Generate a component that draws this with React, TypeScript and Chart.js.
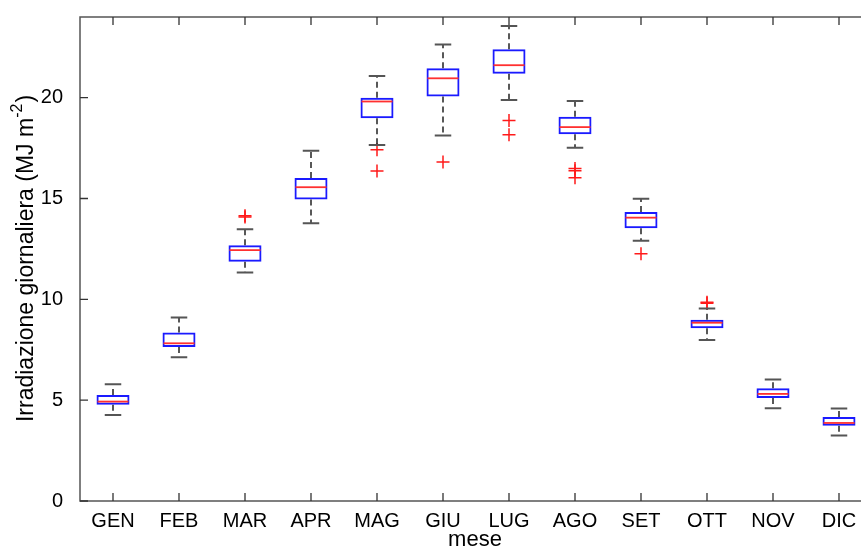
import React, { useEffect, useRef } from "react";
import { Chart, registerables } from "chart.js";

Chart.register(...registerables);

const MONTHS = ["GEN", "FEB", "MAR", "APR", "MAG", "GIU", "LUG", "AGO", "SET", "OTT", "NOV", "DIC"];
const LOWER_WHISKER = [4.27, 7.13, 11.33, 13.77, 17.65, 18.13, 19.89, 17.52, 12.9, 7.98, 4.6, 3.25];
const Q1 = [4.77, 7.64, 11.86, 14.95, 18.98, 20.06, 21.19, 18.19, 13.52, 8.56, 5.11, 3.73];
const MEDIAN = [4.93, 7.82, 12.44, 15.56, 19.81, 20.96, 21.61, 18.54, 14.05, 8.84, 5.31, 3.87];
const Q3 = [5.26, 8.36, 12.68, 16.02, 19.99, 21.46, 22.4, 19.05, 14.33, 8.99, 5.59, 4.16];
const UPPER_WHISKER = [5.79, 9.1, 13.47, 17.37, 21.08, 22.64, 23.55, 19.83, 14.99, 9.54, 6.02, 4.59];
const OUTLIER_MONTHS = ["MAR", "MAR", "MAG", "MAG", "GIU", "LUG", "LUG", "AGO", "AGO", "AGO", "SET", "OTT", "OTT"];
const OUTLIER_VALUES = [14.08, 14.14, 17.42, 16.36, 16.81, 18.87, 18.16, 16.49, 16.38, 16.03, 12.26, 9.86, 9.8];
const Y_TICKS = [0, 5, 10, 15, 20];
const Y_MIN = 0;
const Y_MAX = 24;
const Y_TITLE = "Irradiazione giornaliera (MJ m";
const Y_TITLE_SUP = "-2";
const Y_TITLE_END = ")";
const X_TITLE = "mese";

const FONT = "'Liberation Sans', Arial, Helvetica, sans-serif";

const boxPlugin = {
  id: "boxDecor",
  afterDatasetsDraw(chart: any) {
    const { ctx, chartArea, scales } = chart;
    const x = scales.x;
    const y = scales.y;
    const step = (chartArea.right - chartArea.left) / MONTHS.length;
    const capHalf = step * 0.125;
    const boxHalf = step * 0.25;
    ctx.save();
    MONTHS.forEach((_, i) => {
      const cx = x.getPixelForValue(i);
      const yLw = y.getPixelForValue(LOWER_WHISKER[i]);
      const yQ1 = y.getPixelForValue(Q1[i]);
      const yMed = y.getPixelForValue(MEDIAN[i]);
      const yQ3 = y.getPixelForValue(Q3[i]);
      const yUw = y.getPixelForValue(UPPER_WHISKER[i]);
      ctx.strokeStyle = "#222";
      ctx.lineWidth = 1.5;
      ctx.setLineDash([6, 4]);
      ctx.beginPath();
      ctx.moveTo(cx, yQ3);
      ctx.lineTo(cx, yUw);
      ctx.moveTo(cx, yQ1);
      ctx.lineTo(cx, yLw);
      ctx.stroke();
      ctx.setLineDash([]);
      ctx.strokeStyle = "#555";
      ctx.lineWidth = 2;
      ctx.beginPath();
      ctx.moveTo(cx - capHalf, yUw);
      ctx.lineTo(cx + capHalf, yUw);
      ctx.moveTo(cx - capHalf, yLw);
      ctx.lineTo(cx + capHalf, yLw);
      ctx.stroke();
      ctx.strokeStyle = "#ff3030";
      ctx.lineWidth = 1.8;
      ctx.beginPath();
      ctx.moveTo(cx - boxHalf + 1, yMed);
      ctx.lineTo(cx + boxHalf - 1, yMed);
      ctx.stroke();
    });
    ctx.restore();
  },
  afterDraw(chart: any) {
    const { ctx, chartArea, scales } = chart;
    const x = scales.x;
    const y = scales.y;
    const { left, right, top, bottom } = chartArea;
    const tickLen = 8;
    ctx.save();
    ctx.strokeStyle = "#555";
    ctx.lineWidth = 1.5;
    ctx.beginPath();
    ctx.rect(left, top, right - left, bottom - top);
    ctx.stroke();
    ctx.lineWidth = 1.3;
    ctx.strokeStyle = "#333";
    ctx.beginPath();
    MONTHS.forEach((_, i) => {
      const px = x.getPixelForValue(i);
      ctx.moveTo(px, bottom);
      ctx.lineTo(px, bottom - tickLen);
      ctx.moveTo(px, top);
      ctx.lineTo(px, top + tickLen);
    });
    Y_TICKS.forEach((v) => {
      const py = y.getPixelForValue(v);
      ctx.moveTo(left, py);
      ctx.lineTo(left + tickLen, py);
      ctx.moveTo(right, py);
      ctx.lineTo(right - tickLen, py);
    });
    ctx.stroke();

    ctx.fillStyle = "#000";
    ctx.font = `22px ${FONT}`;
    ctx.textAlign = "center";
    ctx.textBaseline = "middle";
    ctx.fillText(X_TITLE, (left + right) / 2 - 1, 540);

    ctx.translate(27, (top + bottom) / 2);
    ctx.rotate(-Math.PI / 2);
    ctx.textAlign = "left";
    ctx.textBaseline = "middle";
    const mainFont = `23px ${FONT}`;
    const supFont = `16px ${FONT}`;
    ctx.font = mainFont;
    const w1 = ctx.measureText(Y_TITLE).width;
    const w3 = ctx.measureText(Y_TITLE_END).width;
    ctx.font = supFont;
    const w2 = ctx.measureText(Y_TITLE_SUP).width;
    const x0 = -(w1 + w2 + w3) / 2;
    ctx.font = mainFont;
    ctx.fillText(Y_TITLE, x0, 0);
    ctx.font = supFont;
    ctx.fillText(Y_TITLE_SUP, x0 + w1, -9);
    ctx.font = mainFont;
    ctx.fillText(Y_TITLE_END, x0 + w1 + w2 + 1, 0);
    ctx.restore();
  },
};

export default function App() {
  const canvasRef = useRef<HTMLCanvasElement | null>(null);

  useEffect(() => {
    if (!canvasRef.current) return;
    const chart = new Chart(canvasRef.current, {
      type: "bar",
      data: {
        labels: MONTHS,
        datasets: [
          {
            type: "bar",
            data: MONTHS.map((_, i) => [Q1[i], Q3[i]]) as any,
            backgroundColor: "rgba(0,0,0,0)",
            borderColor: "#1a1aff",
            borderWidth: 2,
            borderSkipped: false,
            barPercentage: 0.5,
            categoryPercentage: 1,
            order: 2,
          } as any,
          {
            type: "line",
            data: OUTLIER_MONTHS.map((m, i) => ({ x: m, y: OUTLIER_VALUES[i] })) as any,
            showLine: false,
            pointStyle: "cross",
            pointRadius: 6.5,
            pointBorderWidth: 1.5,
            borderColor: "#ff1a1a",
            backgroundColor: "#ff1a1a",
            order: 1,
          } as any,
        ],
      },
      options: {
        animation: false,
        responsive: false,
        layout: { padding: { left: 0, right: 8, top: 17, bottom: 0 } },
        plugins: { legend: { display: false }, tooltip: { enabled: false } },
        scales: {
          x: {
            type: "category",
            offset: true,
            grid: { display: false, drawTicks: false },
            border: { display: false },
            ticks: {
              color: "#000",
              font: { family: FONT, size: 20 },
              padding: 8,
              maxRotation: 0,
              autoSkip: false,
            },
            afterFit: (s: any) => {
              s.height = 48;
              s.paddingLeft = 0;
              s.paddingRight = 0;
            },
          },
          y: {
            type: "linear",
            min: Y_MIN,
            max: Y_MAX,
            grid: { display: false, drawTicks: false },
            border: { display: false },
            ticks: {
              color: "#000",
              font: { family: FONT, size: 20 },
              padding: 17,
            },
            afterBuildTicks: (s: any) => {
              s.ticks = Y_TICKS.map((v) => ({ value: v }));
            },
            afterFit: (s: any) => {
              s.width = 80;
              s.paddingTop = 0;
              s.paddingBottom = 0;
            },
          },
        },
      },
      plugins: [boxPlugin],
    });
    return () => chart.destroy();
  }, []);

  return (
    <div
      style={{
        position: "fixed",
        left: 0,
        top: 0,
        width: 861,
        height: 549,
        overflow: "hidden",
        background: "#fff",
      }}
    >
      <canvas ref={canvasRef} width={880} height={549} style={{ display: "block" }} />
    </div>
  );
}
